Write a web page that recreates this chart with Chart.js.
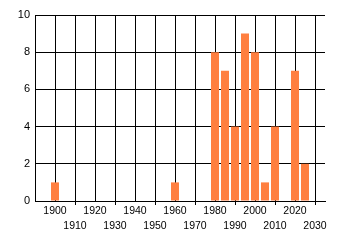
<!DOCTYPE html>
<html>
<head>
<meta charset="utf-8">
<script src="https://cdn.jsdelivr.net/npm/chart.js@4"></script>
<style>
  html, body { margin: 0; padding: 0; background: #fff; }
  #wrap { width: 340px; height: 245px; position: relative; }
</style>
</head>
<body>
<div id="wrap"><canvas id="chartYears"></canvas></div>
<script>
// decades / counts
const years = [1900, 1960, 1980, 1985, 1990, 1995, 2000, 2005, 2010, 2020, 2025];
const counts = [1, 1, 8, 7, 4, 9, 8, 1, 4, 7, 2];
const xMin = 1890, xMax = 2035, xStep = 10;
const yMin = 0, yMax = 10, yStep = 2;

const tickFont = { family: 'Liberation Sans, Arial, sans-serif', size: 10.5, lineHeight: '15px' };

let chartYears = new Chart(document.getElementById('chartYears'), {
  type: 'bar',
  data: {
    datasets: [{
      data: years.map((y, i) => ({ x: y, y: counts[i] })),
      backgroundColor: '#ff7f40',
      borderWidth: 0,
      barPercentage: 1,
      categoryPercentage: 0.8
    }]
  },
  options: {
    responsive: true,
    maintainAspectRatio: false,
    animation: false,
    layout: { padding: { top: 15, right: 15, left: 0, bottom: 0 } },
    plugins: { legend: { display: false }, tooltip: { enabled: false } },
    scales: {
      x: {
        type: 'linear',
        min: xMin,
        max: xMax,
        offset: false,
        afterFit: s => { s.height = 44; },
        border: { color: '#000', width: 1 },
        grid: {
          offset: false,
          color: ctx => ctx.tick && ctx.tick.value === xMin ? 'rgba(0,0,0,0)' : '#000',
          lineWidth: 1,
          tickLength: 4,
          // small marks only under the decades on the second row
          tickColor: ctx => {
            const v = ctx.tick ? ctx.tick.value : 0;
            return ((v - 1900) / 10) % 2 !== 0 && v !== xMin ? '#000' : 'rgba(0,0,0,0)';
          }
        },
        ticks: {
          stepSize: xStep,
          includeBounds: false,
          autoSkip: false,
          maxRotation: 0,
          padding: -1,
          color: '#000',
          font: tickFont,
          callback: v => {
            if (v === xMin) return '';
            return ((v - 1900) / 10) % 2 === 0 ? [String(v), ''] : ['', String(v)];
          }
        }
      },
      y: {
        min: yMin,
        max: yMax,
        afterFit: s => { s.width = 35; },
        border: { color: '#000', width: 1 },
        grid: { color: '#000', lineWidth: 1, drawTicks: false },
        ticks: {
          stepSize: yStep,
          padding: 5,
          color: '#000',
          font: { family: 'Liberation Sans, Arial, sans-serif', size: 11 }
        }
      }
    }
  }
});
</script>
</body>
</html>
